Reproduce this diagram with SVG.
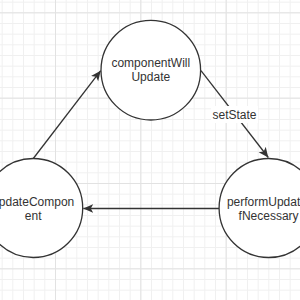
<svg xmlns="http://www.w3.org/2000/svg" width="300" height="300" viewBox="0 0 300 300">
  <defs>
    <pattern id="minor" patternUnits="userSpaceOnUse" x="1.667" y="1.667" width="10.6667" height="10.6667">
      <path d="M0.5,0 V10.6667 M0,0.5 H10.6667" fill="none" stroke="#f0f0f0" stroke-width="1"/>
    </pattern>
    <pattern id="major" patternUnits="userSpaceOnUse" x="55" y="12.333" width="85.3333" height="85.3333">
      <path d="M0.5,0 V85.3333 M0,0.5 H85.3333" fill="none" stroke="#e2e2e2" stroke-width="1"/>
    </pattern>
    <marker id="arrow" markerUnits="userSpaceOnUse" markerWidth="12" markerHeight="10" refX="10" refY="4.5" orient="auto">
      <path d="M0,0 L10,4.5 L0,9 L2.5,4.5 z" fill="#333"/>
    </marker>
    <style>
      .node circle { fill: #fff; stroke: #333; stroke-width: 1.3; }
      .node text, .label { font-family: "Liberation Sans", Arial, sans-serif; font-size: 12px; fill: #333; text-anchor: middle; }
      .edge { fill: none; stroke: #333; stroke-width: 1.3; marker-end: url(#arrow); }
    </style>
  </defs>
  <rect x="0" y="0" width="300" height="300" fill="#fff"/>
  <rect x="0" y="0" width="300" height="300" fill="url(#minor)"/>
  <rect x="0" y="0" width="300" height="300" fill="url(#major)"/>

  <g id="connectors">
    <line class="edge" x1="33.3" y1="158.5" x2="100.7" y2="70.7"/>
    <line class="edge" x1="201" y1="70.7" x2="268.3" y2="157.5"/>
    <line class="edge" x1="219" y1="208.5" x2="83.3" y2="208.5"/>
    <rect x="211" y="106" width="47" height="17" fill="#fff"/>
    <text class="label" x="234.5" y="118.5">setState</text>
  </g>

  <g id="node-componentWillUpdate" class="node">
    <circle cx="150.8" cy="70.2" r="49.8"/>
    <text x="150.8" y="67">componentWill</text>
    <text x="150.8" y="81">Update</text>
  </g>

  <g id="node-updateComponent" class="node">
    <circle cx="33.2" cy="208" r="49.5"/>
    <text x="33.2" y="205.5">updateCompon</text>
    <text x="33.2" y="219.5">ent</text>
  </g>

  <g id="node-performUpdateIfNecessary" class="node">
    <circle cx="268.6" cy="208" r="49.5"/>
    <text x="268.6" y="205.5">performUpdateI</text>
    <text x="268.6" y="219.5">fNecessary</text>
  </g>
</svg>
